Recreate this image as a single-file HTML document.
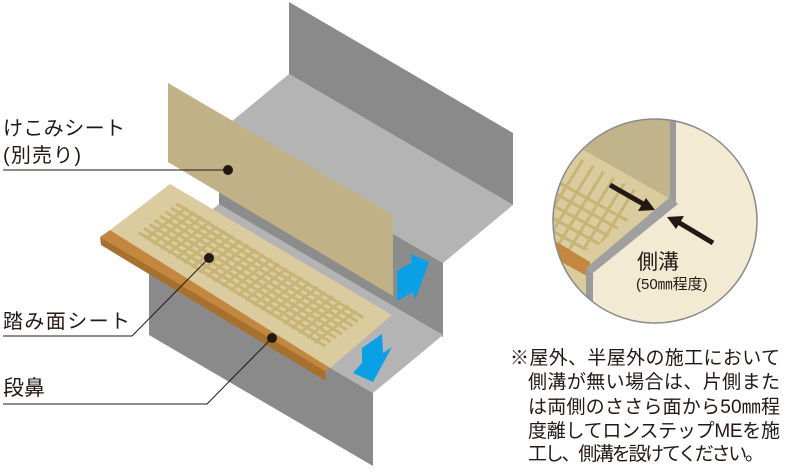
<!DOCTYPE html>
<html><head><meta charset="utf-8"><style>
html,body{margin:0;padding:0;background:#fff;width:787px;height:472px;overflow:hidden}
svg{display:block}
text{font-family:"Liberation Sans","Noto Sans CJK JP",sans-serif;fill:#231815}
</style></head><body>
<svg width="787" height="472" viewBox="0 0 787 472" xmlns="http://www.w3.org/2000/svg">
<defs>
<clipPath id="cc"><circle cx="655" cy="221" r="102"/></clipPath>
<clipPath id="tg"><polygon points="540,158 580,158 652,200 592,250 540,250"/></clipPath>
</defs>
<polygon points="289,2 513,133 513,205 289,74" fill="#8a8a8a"/>
<polygon points="289,74 513,205 443,263 219,132" fill="#b4b4b4"/>
<polygon points="219,132 443,263 443,337 219,206" fill="#8c8c8c"/>
<polygon points="219,204 443,335 373,393 149,262" fill="#b4b4b4"/>
<polygon points="149,262 373,393 373,466 149,335" fill="#8a8a8a"/>
<polygon points="168,83 393,215 393,296 168,162" fill="#c0b186"/>
<polygon points="110,230 170,184 392,315 330,368" fill="#dacc9f"/>
<g stroke="#c8b476" stroke-width="3" fill="none">
<path d="M138.4 232.4 l187 113.9 m-181.6 -118 l187 113.9 m-181.6 -118 l187 113.9 m-181.6 -118 l187 113.9 m-181.6 -118 l187 113.9 m-181.6 -118 l187 113.9 m-181.6 -118 l187 113.9 m-181.6 -118 l187 113.9"/>
<path d="M145.4 239.2 l41.4 -31.7 m-33.7 36.39 l41.4 -31.7 m-33.7 36.39 l41.4 -31.7 m-33.7 36.39 l41.4 -31.7 m-33.7 36.39 l41.4 -31.7 m-33.7 36.39 l41.4 -31.7 m-33.7 36.39 l41.4 -31.7 m-33.7 36.39 l41.4 -31.7 m-33.7 36.39 l41.4 -31.7 m-33.7 36.39 l41.4 -31.7 m-33.7 36.39 l41.4 -31.7 m-33.7 36.39 l41.4 -31.7 m-33.7 36.39 l41.4 -31.7 m-33.7 36.39 l41.4 -31.7 m-33.7 36.39 l41.4 -31.7 m-33.7 36.39 l41.4 -31.7 m-33.7 36.39 l41.4 -31.7 m-33.7 36.39 l41.4 -31.7 m-33.7 36.39 l41.4 -31.7 m-33.7 36.39 l41.4 -31.7 m-33.7 36.39 l41.4 -31.7 m-33.7 36.39 l41.4 -31.7 m-33.7 36.39 l41.4 -31.7"/>
</g>
<polygon points="100,237 110,230 330,368 325,372" fill="#c3873f"/>
<polygon points="100,237 325,371 326,381 101,245" fill="#a8702f"/>
<polygon points="397,301 397,271 412,262 411,254 429,262 415,300 413,292" fill="#0aa0e6"/>
<polygon points="382,334 383,353 392,347 373,382 353,373 362,363 362,348" fill="#0aa0e6"/>
<g stroke="#231815" stroke-width="1" fill="none">
<polyline points="3,170 228,170"/>
<polyline points="3,336 132,336 209,258"/>
<polyline points="3,404 207,404 272,338"/>
</g>
<circle cx="228" cy="170" r="5" fill="#231815"/>
<circle cx="209" cy="258" r="5" fill="#231815"/>
<circle cx="272" cy="338" r="5" fill="#231815"/>
<text x="3" y="135" font-size="20" textLength="122">けこみシート</text>
<text x="3" y="162" font-size="20" textLength="78">(別売り)</text>
<text x="3" y="328" font-size="20" textLength="127">踏み面シート</text>
<text x="3" y="395" font-size="21">段鼻</text>
<g clip-path="url(#cc)">
<rect x="540" y="110" width="230" height="230" fill="#f3ead3"/>
<polygon points="540,110 672,110 672,200 583,150 540,150" fill="#c2b48a"/>
<polygon points="540,150 583,150 672,200 590,266 540,266" fill="#dacc9f"/>
<g stroke="#c8b476" stroke-width="3" clip-path="url(#tg)">
<line x1="540" y1="172" x2="680" y2="250"/>
<line x1="540" y1="185" x2="680" y2="263"/>
<line x1="540" y1="198" x2="680" y2="276"/>
<line x1="540" y1="211" x2="680" y2="289"/>
<line x1="540" y1="224" x2="680" y2="302"/>
<line x1="575" y1="150" x2="513" y2="250"/>
<line x1="589" y1="150" x2="527" y2="250"/>
<line x1="603" y1="150" x2="541" y2="250"/>
<line x1="617" y1="150" x2="555" y2="250"/>
<line x1="631" y1="150" x2="569" y2="250"/>
<line x1="645" y1="150" x2="583" y2="250"/>
<line x1="659" y1="150" x2="597" y2="250"/>
</g>
<polygon points="540,232 590,262 590,278 540,250" fill="#c3873f"/>
<polygon points="540,250 590,278 590,340 540,340" fill="#dacc9f"/>
<polygon points="670,110 676,110 676,202 670,202" fill="#9a9a9a"/>
<polygon points="670,197 678,204 593,273 586,268" fill="#a0a0a0"/>
<polygon points="586,268 593,273 593,340 586,340" fill="#9a9a9a"/>
</g>
<circle cx="655" cy="221" r="102" fill="none" stroke="#8a8a8a" stroke-width="1.5"/>
<line x1="610" y1="185" x2="645" y2="205" stroke="#231815" stroke-width="5"/>
<polygon points="655,210 638,211 646,198" fill="#231815"/>
<line x1="713" y1="243" x2="678" y2="222" stroke="#231815" stroke-width="5"/>
<polygon points="667,217 684,216 676,229" fill="#231815"/>
<text x="637" y="269" font-size="21">側溝</text>
<text x="636" y="289" font-size="15">(50㎜程度)</text>
<g font-size="19">
<text x="510" y="364" textLength="270">※屋外、半屋外の施工において</text>
<text x="528" y="388" textLength="252">側溝が無い場合は、片側また</text>
<text x="528" y="413" textLength="252">は両側のささら面から50㎜程</text>
<text x="528" y="437" textLength="252">度離してロンステップMEを施</text>
<text x="528" y="460" textLength="236">工し、側溝を設けてください。</text>
</g>
</svg>
</body></html>
